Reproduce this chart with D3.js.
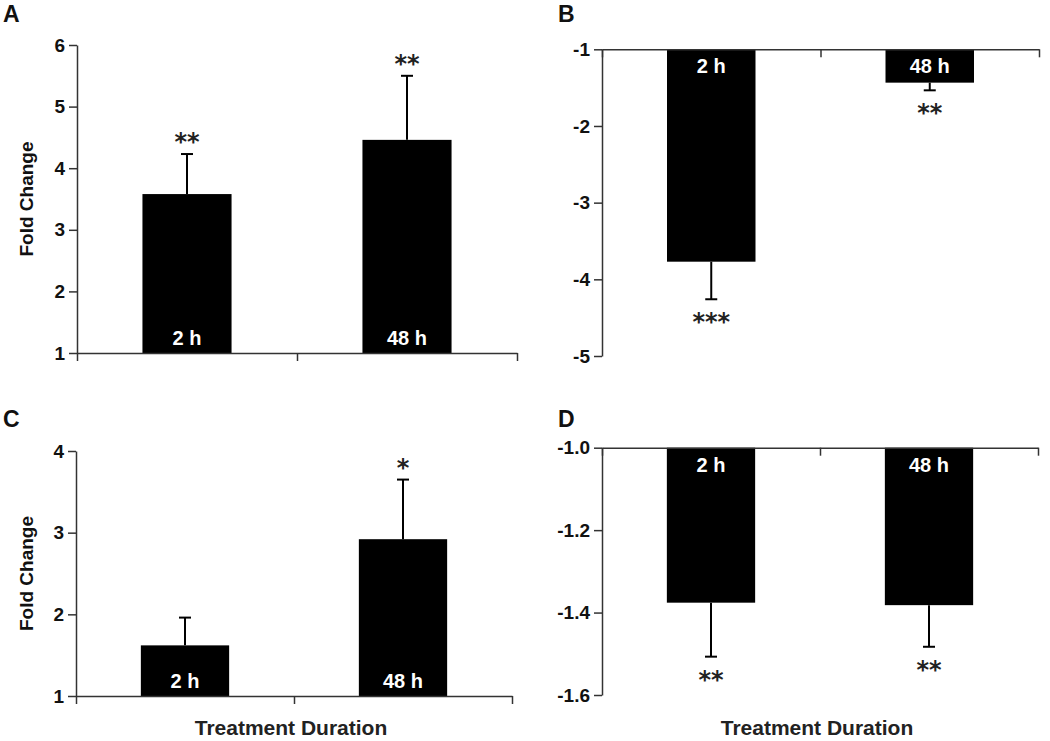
<!DOCTYPE html>
<html>
<head>
<meta charset="utf-8">
<script src="https://cdn.jsdelivr.net/npm/d3@7"></script>
<style>
  html, body { margin: 0; padding: 0; background: #fff; }
  svg { display: block; }
</style>
</head>
<body>
<svg id="chart" width="1050" height="741"></svg>
<script>
// ---------- data ----------
const categories = ["2 h", "48 h"];
const panelLetters = ["A", "B", "C", "D"];

const valuesA = [3.58, 4.46];
const errorsA = [0.65, 1.04];
const starsA = ["**", "**"];
const ticksA = [1, 2, 3, 4, 5, 6];

const valuesB = [-3.77, -1.435];
const errorsB = [0.49, 0.10];
const starsB = ["***", "**"];
const ticksB = [-1, -2, -3, -4, -5];

const valuesC = [1.62, 2.92];
const errorsC = [0.34, 0.73];
const starsC = ["", "*"];
const ticksC = [1, 2, 3, 4];

const valuesD = [-1.376, -1.382];
const errorsD = [0.131, 0.101];
const starsD = ["**", "**"];
const ticksD = [-1.0, -1.2, -1.4, -1.6];

const yLabel = "Fold Change";
const xLabel = "Treatment Duration";

// ---------- layout ----------
const hyphen = f => v => f(v).replace("\u2212", "-");
const panels = [
  { letter: panelLetters[0], values: valuesA, errors: errorsA, stars: starsA, ticks: ticksA, fmt: hyphen(d3.format("d")),
    x0: 77, x1: 517, yTop: 45, yBot: 353, domain: [1, 6], letterPos: [3, 22], ylab: true, xlab: false },
  { letter: panelLetters[1], values: valuesB, errors: errorsB, stars: starsB, ticks: ticksB, fmt: hyphen(d3.format("d")),
    x0: 602, x1: 1039, yTop: 49.3, yBot: 356, domain: [-1, -5], letterPos: [558, 22], ylab: false, xlab: false },
  { letter: panelLetters[2], values: valuesC, errors: errorsC, stars: starsC, ticks: ticksC, fmt: hyphen(d3.format("d")),
    x0: 76, x1: 512, yTop: 451, yBot: 696, domain: [1, 4], letterPos: [3, 427], ylab: true, xlab: true },
  { letter: panelLetters[3], values: valuesD, errors: errorsD, stars: starsD, ticks: ticksD, fmt: hyphen(d3.format(".1f")),
    x0: 602, x1: 1038, yTop: 447.7, yBot: 695, domain: [-1.0, -1.6], letterPos: [558, 427], ylab: false, xlab: true }
];

const svg = d3.select("#chart");
const axisColor = "#333";
const sans = "'Liberation Sans', Arial, Helvetica, sans-serif";
const starFont = "'DejaVu Sans', sans-serif";

panels.forEach(p => {
  const g = svg.append("g");
  const negative = p.domain[1] < p.domain[0];

  const y = negative
    ? d3.scaleLinear().domain(p.domain).range([p.yTop, p.yBot])
    : d3.scaleLinear().domain(p.domain).range([p.yBot, p.yTop]);
  const x = d3.scaleBand().domain(categories).range([p.x0, p.x1])
    .paddingInner(0.595).paddingOuter(0.2975);
  const xb = d3.scaleLinear().domain([0, categories.length]).range([p.x0, p.x1]);

  const baseY = y(p.domain[0]);

  // bars
  g.selectAll("rect.bar").data(p.values).join("rect")
    .attr("class", "bar")
    .attr("x", (d, i) => x(categories[i]))
    .attr("width", x.bandwidth())
    .attr("y", d => Math.min(y(d), baseY))
    .attr("height", d => Math.abs(y(d) - baseY))
    .attr("fill", "#000");

  // error bars (one-sided, away from baseline)
  const errEnd = (d, i) => negative ? y(d - p.errors[i]) : y(d + p.errors[i]);
  g.selectAll("line.err").data(p.values).join("line")
    .attr("x1", (d, i) => x(categories[i]) + x.bandwidth() / 2)
    .attr("x2", (d, i) => x(categories[i]) + x.bandwidth() / 2)
    .attr("y1", d => y(d))
    .attr("y2", errEnd)
    .attr("stroke", "#000").attr("stroke-width", 2);
  g.selectAll("line.cap").data(p.values).join("line")
    .attr("x1", (d, i) => x(categories[i]) + x.bandwidth() / 2 - 6)
    .attr("x2", (d, i) => x(categories[i]) + x.bandwidth() / 2 + 6)
    .attr("y1", errEnd).attr("y2", errEnd)
    .attr("stroke", "#000").attr("stroke-width", 2);

  // significance stars
  g.selectAll("text.star").data(p.values).join("text")
    .attr("x", (d, i) => x(categories[i]) + x.bandwidth() / 2)
    .attr("y", (d, i) => negative ? errEnd(d, i) + 31 : errEnd(d, i) - 4)
    .attr("text-anchor", "middle")
    .attr("font-family", starFont).attr("font-weight", "bold").attr("font-size", 24)
    .attr("fill", "#222")
    .text((d, i) => p.stars[i]);

  // in-bar category labels
  g.selectAll("text.cat").data(categories).join("text")
    .attr("x", d => x(d) + x.bandwidth() / 2)
    .attr("y", negative ? baseY + 24 : baseY - 8)
    .attr("text-anchor", "middle")
    .attr("font-family", sans).attr("font-weight", "bold").attr("font-size", 20)
    .attr("fill", "#fff")
    .text(d => d);

  // y axis
  const yAxis = g.append("g")
    .attr("transform", `translate(${p.x0},0)`)
    .call(d3.axisLeft(y).tickValues(p.ticks).tickFormat(p.fmt).tickSize(8).tickSizeOuter(0).tickPadding(4));
  yAxis.select(".domain").attr("stroke", axisColor).attr("stroke-width", 1.5);
  yAxis.selectAll(".tick line").attr("stroke", axisColor).attr("stroke-width", 1.5);
  yAxis.selectAll(".tick text")
    .attr("font-family", sans).attr("font-weight", "bold").attr("font-size", 19).attr("fill", "#111");

  // x axis (at baseline), ticks at category boundaries
  const xAxis = g.append("g")
    .attr("transform", `translate(0,${baseY})`)
    .call(d3.axisBottom(xb).tickValues(d3.range(categories.length + 1)).tickFormat("").tickSize(8).tickSizeOuter(0));
  xAxis.select(".domain").attr("stroke", axisColor).attr("stroke-width", 1.5);
  xAxis.selectAll(".tick line").attr("stroke", axisColor).attr("stroke-width", 1.5);

  // panel letter
  g.append("text")
    .attr("x", p.letterPos[0]).attr("y", p.letterPos[1])
    .attr("font-family", sans).attr("font-weight", "bold").attr("font-size", 23)
    .attr("fill", "#111")
    .text(p.letter);

  // y label
  if (p.ylab) {
    const cy = (p.yTop + p.yBot) / 2;
    g.append("text")
      .attr("transform", `translate(33,${cy}) rotate(-90)`)
      .attr("text-anchor", "middle")
      .attr("font-family", sans).attr("font-weight", "bold").attr("font-size", 19)
      .attr("fill", "#111")
      .text(yLabel);
  }

  // x label
  if (p.xlab) {
    g.append("text")
      .attr("x", (p.x0 + p.x1) / 2 - 3).attr("y", 735)
      .attr("text-anchor", "middle")
      .attr("font-family", sans).attr("font-weight", "bold").attr("font-size", 21)
      .attr("fill", "#222")
      .text(xLabel);
  }
});
</script>
</body>
</html>
